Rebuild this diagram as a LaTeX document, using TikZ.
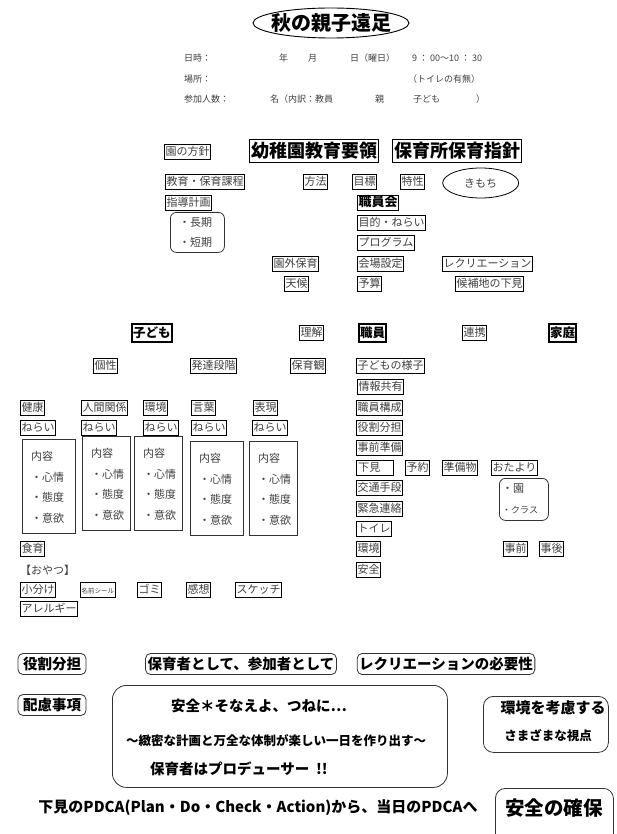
\documentclass[tikz,border=0pt]{standalone}
\usepackage{fontspec}
\setmainfont{Noto Sans CJK JP}
\usetikzlibrary{shapes.geometric}
\definecolor{tg}{gray}{0.25}
\begin{document}
\begin{tikzpicture}[x=1pt,y=-1pt,
  every node/.style={inner sep=0pt},
  tx/.style={font=\fontsize{11}{11}\selectfont, text=tg, anchor=west},
  hd/.style={font=\fontsize{9}{9}\selectfont, text=tg, anchor=west},
  bx/.style={tx, draw=black, line width=0.8pt, inner xsep=1.2pt, inner ysep=2.5pt, text height=8.5pt, text depth=1.8pt},
  bigbx/.style={draw=black, line width=1pt, font=\bfseries\fontsize{18}{18}\selectfont, anchor=west, inner xsep=1.5pt, inner ysep=3pt, text height=15pt, text depth=2.5pt},
  heavybox/.style={draw=black, line width=2.2pt, font=\bfseries\fontsize{12.5}{12.5}\selectfont, anchor=west, inner xsep=1pt, inner ysep=2.5pt, text height=11pt, text depth=2pt},
  rbox/.style={draw=black!80, line width=0.8pt, rounded corners=6pt},
  pill/.style={draw=black!80, line width=0.8pt, rounded corners=5pt, font=\bfseries\fontsize{14.5}{14.5}\selectfont, text height=12.5pt, text depth=2.5pt, inner xsep=5pt, inner ysep=3pt},
  cbox/.style={draw=black!80, line width=0.8pt},
  bt/.style={font=\bfseries\fontsize{14.5}{14.5}\selectfont},
]
\fill[white] (0,0) rectangle (616,834);
\useasboundingbox (0,0) rectangle (616,834);

% ---------- header ----------
\node[font=\bfseries\fontsize{20}{20}\selectfont] (title) at (331,23) {秋の親子遠足};
\draw[line width=0.9pt] (title.center) ellipse (78 and 15);
\node[hd] (h1) at (184,58) {日時：};
\node[hd] (h2) at (279,58) {年};
\node[hd] (h3) at (308,58) {月};
\node[hd] (h4) at (350,58) {日（曜日）};
\node[hd] (h5) at (412,58) {9 ： 00〜10 ： 30};
\node[hd] (h6) at (184,79) {場所：};
\node[hd] (h7) at (408,79) {（トイレの有無）};
\node[hd] (h8) at (184,99) {参加人数：};
\node[hd] (h9) at (270,99) {名（内訳：教員};
\node[hd] (h10) at (375,99) {親};
\node[hd] (h11) at (413,99) {子ども};
\node[hd] (h12) at (476,99) {）};

% ---------- policy section ----------
\node[bx] (en) at (164,152) {園の方針};
\node[bigbx] (yo) at (249,151) {幼稚園教育要領};
\node[bigbx] (ho) at (392,151) {保育所保育指針};
\node[bx] (kk) at (165,182) {教育・保育課程};
\node[bx] (hoho) at (303,182) {方法};
\node[bx] (mok) at (352,182) {目標};
\node[bx] (tok) at (400,182) {特性};
\node[tx] (kim) at (464,183) {きもち};
\draw[line width=0.8pt] (kim.center) ellipse (38 and 15);
\node[bx] (sido) at (165,203) {指導計画};
\node[rbox, minimum width=54, minimum height=40, anchor=north west] (kiki) at (170,212) {};
\node[tx] (cho) at (179,222) {・長期};
\node[tx] (tan) at (179,242) {・短期};
\node[bx, font=\bfseries\fontsize{13}{13}\selectfont, text=black] (skk) at (357,203) {職員会};
\node[bx] (mn) at (357,223) {目的・ねらい};
\node[bx] (pg) at (357,243) {プログラム};
\node[bx] (eg) at (272,264) {園外保育};
\node[bx] (ks) at (357,264) {会場設定};
\node[bx] (rc) at (442,264) {レクリエーション};
\node[bx] (tk) at (284,284) {天候};
\node[bx] (ys) at (357,284) {予算};
\node[bx] (kh) at (455,284) {候補地の下見};

% ---------- child / staff / home ----------
\node[heavybox] (kodomo) at (131,333) {子ども};
\node[bx] (rikai) at (299,333) {理解};
\node[heavybox] (shokuin) at (358,333) {職員};
\node[bx] (renkei) at (462,333) {連携};
\node[heavybox] (katei) at (548,333) {家庭};
\node[bx] (kosei) at (93,366) {個性};
\node[bx] (hattatsu) at (190,366) {発達段階};
\node[bx] (hoikukan) at (290,366) {保育観};
\node[bx] (yosu) at (356,366) {子どもの様子};
\node[bx] (joho) at (357,387) {情報共有};

% five areas
\node[bx] (a1) at (20,408) {健康};
\node[bx] (a2) at (81,408) {人間関係};
\node[bx] (a3) at (143,408) {環境};
\node[bx] (a4) at (191,408) {言葉};
\node[bx] (a5) at (253,408) {表現};
\node[bx] (n1) at (20,428) {ねらい};
\node[bx] (n2) at (81,428) {ねらい};
\node[bx] (n3) at (143,428) {ねらい};
\node[bx] (n4) at (191,428) {ねらい};
\node[bx] (n5) at (252,428) {ねらい};
\foreach \n/\x/\y/\w in {1/22/439/53, 2/82/436/48, 3/134/436/48, 4/190/441/53, 5/249/441/48} {
  \node[cbox, minimum width=\w, minimum height=94, anchor=north west] (c\n) at (\x,\y) {};
  \node[tx] (c\n-a) at (\x+9,\y+17) {内容};
  \node[tx] (c\n-b) at (\x+9,\y+38) {・心情};
  \node[tx] (c\n-c) at (\x+9,\y+58) {・態度};
  \node[tx] (c\n-d) at (\x+9,\y+79) {・意欲};
}
\node[bx] (shokuiku) at (20,549) {食育};
\node[tx] (oyatsu) at (20,570) {【おやつ】};
\node[bx] (kowake) at (20,590) {小分け};
\node[bx, font=\fontsize{6.5}{6.5}\selectfont] (namae) at (80,590) {名前シール};
\node[bx] (gomi) at (137,590) {ゴミ};
\node[bx] (kanso) at (186,590) {感想};
\node[bx] (sketch) at (235,590) {スケッチ};
\node[bx] (allergy) at (20,609) {アレルギー};

% staff column
\node[bx] (s1) at (356,408) {職員構成};
\node[bx] (s2) at (356,428) {役割分担};
\node[bx] (s3) at (356,448) {事前準備};
\node[bx, minimum width=37, text width=33pt] (s4) at (356,468) {下見};
\node[bx] (yoyaku) at (405,468) {予約};
\node[bx] (junbi) at (442,468) {準備物};
\node[bx] (otayori) at (491,468) {おたより};
\node[rbox, minimum width=49, minimum height=42, anchor=north west] (otbox) at (499,478) {};
\node[tx] (on) at (502,489) {・園};
\node[tx, font=\fontsize{9}{9}\selectfont] (cls) at (502,510) {・クラス};
\node[bx] (s5) at (356,488) {交通手段};
\node[bx] (s6) at (356,509) {緊急連絡};
\node[bx] (s7) at (356,529) {トイレ};
\node[bx] (s8) at (356,549) {環境};
\node[bx] (s9) at (356,570) {安全};
\node[bx] (jizen) at (503,549) {事前};
\node[bx] (jigo) at (539,549) {事後};

% ---------- bottom ----------
\node[pill] (yakuwari) at (52,664) {役割分担};
\node[pill, inner xsep=2pt] (hoiku) at (241,664) {保育者として、参加者として};
\node[pill, inner xsep=2pt] (recnec) at (446,664) {レクリエーションの必要性};
\node[pill] (hairyo) at (52,705) {配慮事項};
\node[rbox, rounded corners=14pt, minimum width=335, minimum height=102, anchor=north west] (bigbox) at (112,685) {};
\node[bt] (anzen) at (259,706) {安全＊そなえよ、つねに…};
\node[font=\bfseries\fontsize{12.5}{12.5}\selectfont] (chimitsu) at (276,741) {〜緻密な計画と万全な体制が楽しい一日を作り出す〜};
\node[bt, anchor=west] (producer) at (150,769) {保育者はプロデューサー\ \ !!};
\node[rbox, rounded corners=10pt, minimum width=125, minimum height=56, anchor=north west] (envbox) at (483,696) {};
\node[font=\bfseries\fontsize{15}{15}\selectfont] (env) at (553,708) {環境を考慮する};
\node[font=\bfseries\fontsize{12.5}{12.5}\selectfont] (shiten) at (548,736) {さまざまな視点};
\node[font=\bfseries\fontsize{15}{15}\selectfont] (pdca) at (258,808) {下見のPDCA(Plan・Do・Check・Action)から、当日のPDCAへ};
\node[rbox, rounded corners=10pt, minimum width=118, minimum height=62, anchor=north west] (safebox) at (495,788) {};
\node[font=\bfseries\fontsize{19.5}{19.5}\selectfont] (safe) at (554,808) {安全の確保};
\end{tikzpicture}
\end{document}
